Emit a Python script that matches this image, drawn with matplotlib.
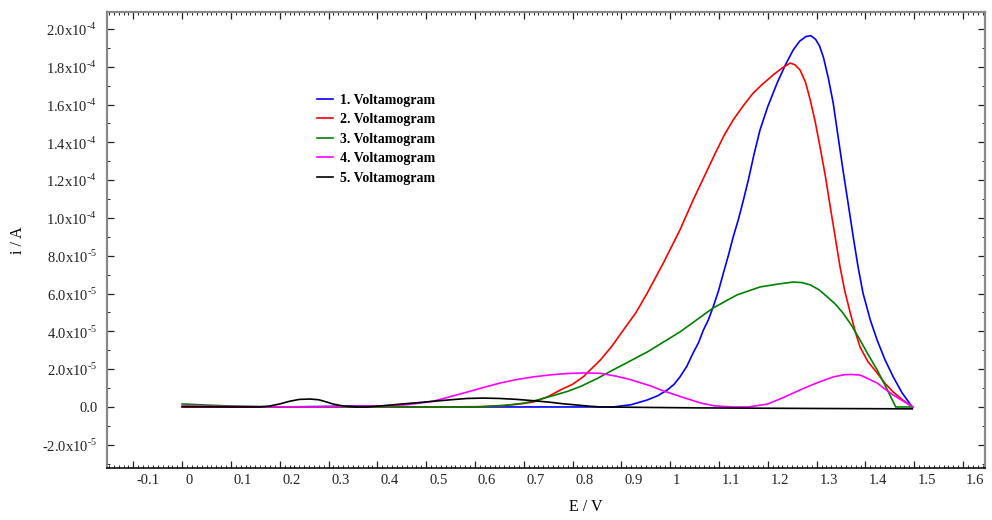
import matplotlib
matplotlib.use("Agg")
import matplotlib.pyplot as plt
from matplotlib.transforms import ScaledTranslation
from matplotlib.ticker import MultipleLocator
import numpy as np

plt.rcParams['font.family'] = ['Liberation Serif', 'DejaVu Serif']
plt.rcParams['mathtext.fontset'] = 'custom'
plt.rcParams['mathtext.rm'] = 'Liberation Serif'

# ---- data (E in V, i in units of 1e-5 A) ----
E1 = [0.0, 0.2, 0.3, 0.35, 0.4, 0.5, 0.8, 0.883, 0.92, 0.953, 0.975, 0.994, 1.008, 1.020, 1.034,
      1.047, 1.058, 1.068, 1.078, 1.088, 1.099, 1.109, 1.119, 1.129, 1.140, 1.150, 1.160, 1.172,
      1.184, 1.20, 1.219, 1.236, 1.252, 1.265, 1.278, 1.288, 1.298, 1.306, 1.314, 1.324, 1.334,
      1.344, 1.354, 1.365, 1.375, 1.385, 1.395, 1.41, 1.424, 1.44, 1.457, 1.475, 1.496]
I1 = [0.0, 0.0, 0.03, 0.05, 0.04, 0.0, 0.0, 0.0, 0.12, 0.37, 0.6, 0.90, 1.2, 1.59, 2.15,
      2.86, 3.4, 4.07, 4.6, 5.29, 6.15, 7.09, 8.0, 8.99, 9.95, 10.95, 12.0, 13.4,
      14.66, 15.9, 17.14, 18.1, 18.89, 19.35, 19.6, 19.65, 19.45, 19.1, 18.5, 17.4, 16.08,
      14.3, 12.54, 10.7, 9.0, 7.4, 6.03, 4.6, 3.54, 2.5, 1.59, 0.75, 0.0]

E2 = [0.0, 0.3, 0.55, 0.62, 0.66, 0.69, 0.719, 0.75, 0.775, 0.8, 0.822, 0.857, 0.88, 0.904, 0.93,
      0.953, 0.986, 1.020, 1.047, 1.068, 1.09, 1.11, 1.129, 1.150, 1.170, 1.19, 1.211, 1.23,
      1.246, 1.256, 1.266, 1.277, 1.287, 1.297, 1.307, 1.318, 1.328, 1.338, 1.348, 1.358, 1.369,
      1.379, 1.389, 1.405, 1.424, 1.44, 1.457, 1.476, 1.496]
I2 = [0.0, 0.0, 0.0, 0.02, 0.08, 0.15, 0.26, 0.55, 0.90, 1.2, 1.6, 2.49, 3.2, 4.07, 5.0,
      6.03, 7.62, 9.37, 10.95, 12.1, 13.3, 14.35, 15.19, 15.95, 16.61, 17.1, 17.57, 17.95,
      18.2, 18.1, 17.83, 17.2, 16.24, 15.1, 13.76, 12.2, 10.58, 9.0, 7.41, 6.1, 4.97,
      4.0, 3.17, 2.4, 1.80, 1.25, 0.79, 0.38, 0.0]

E3 = [0.0, 0.05, 0.1, 0.2, 0.6, 0.66, 0.70, 0.73, 0.76, 0.789, 0.816, 0.85, 0.883, 0.953, 1.020,
      1.088, 1.137, 1.184, 1.22, 1.252, 1.27, 1.287, 1.305, 1.322, 1.338, 1.354, 1.372, 1.389,
      1.405, 1.424, 1.445, 1.462, 1.496]
I3 = [0.16, 0.1, 0.05, 0.0, 0.0, 0.08, 0.2, 0.38, 0.6, 0.82, 1.08, 1.5, 1.96, 2.91, 3.97,
      5.24, 5.93, 6.35, 6.5, 6.61, 6.58, 6.46, 6.2, 5.82, 5.45, 4.97, 4.3, 3.54,
      2.8, 1.96, 0.9, 0.0, 0.0]

E4 = [0.0, 0.1, 0.262, 0.4, 0.447, 0.48, 0.514, 0.55, 0.584, 0.62, 0.652, 0.685, 0.719, 0.755,
      0.789, 0.822, 0.857, 0.891, 0.918, 0.959, 0.986, 1.027, 1.061, 1.09, 1.129, 1.16, 1.199,
      1.232, 1.266, 1.30, 1.334, 1.355, 1.37, 1.389, 1.405, 1.424, 1.44, 1.457, 1.478, 1.498]
I4 = [0.05, 0.02, 0.0, 0.05, 0.1, 0.18, 0.3, 0.55, 0.79, 1.05, 1.27, 1.45, 1.59, 1.7,
      1.77, 1.80, 1.78, 1.62, 1.45, 1.12, 0.85, 0.5, 0.22, 0.06, 0.0, 0.0, 0.15,
      0.5, 0.90, 1.27, 1.59, 1.7, 1.72, 1.69, 1.5, 1.27, 0.95, 0.63, 0.3, 0.0]

E5 = [0.0, 0.1, 0.16, 0.18, 0.2, 0.22, 0.24, 0.262, 0.28, 0.295, 0.31, 0.33, 0.355, 0.379, 0.41,
      0.447, 0.48, 0.514, 0.55, 0.584, 0.617, 0.65, 0.686, 0.72, 0.754, 0.78, 0.81, 0.835, 0.857,
      1.061, 1.3, 1.496]
I5 = [0.02, 0.0, 0.0, 0.05, 0.16, 0.3, 0.4, 0.42, 0.38, 0.27, 0.15, 0.05, 0.0, 0.0, 0.06,
      0.15, 0.22, 0.3, 0.38, 0.45, 0.47, 0.45, 0.4, 0.33, 0.25, 0.17, 0.1, 0.04, 0.0,
      -0.05, -0.08, -0.1]

labels = ['1. Voltamogram', '2. Voltamogram', '3. Voltamogram', '4. Voltamogram', '5. Voltamogram']
colors = ['#0000ff', '#ff0000', '#008000', '#ff00ff', '#000000']

xticks = [-0.1, 0.0, 0.1, 0.2, 0.3, 0.4, 0.5, 0.6, 0.7, 0.8, 0.9, 1.0, 1.1, 1.2, 1.3, 1.4, 1.5, 1.6]
xticklabels = ['-0.1', '0', '0.1', '0.2', '0.3', '0.4', '0.5', '0.6', '0.7', '0.8', '0.9', '1',
               '1.1', '1.2', '1.3', '1.4', '1.5', '1.6']
yticks = [-2e-5, 0.0, 2e-5, 4e-5, 6e-5, 8e-5, 1e-4, 1.2e-4, 1.4e-4, 1.6e-4, 1.8e-4, 2.0e-4]
ytick_mant = ['-2.0', '0.0', '2.0', '4.0', '6.0', '8.0', '1.0', '1.2', '1.4', '1.6', '1.8', '2.0']
ytick_exp = ['5', None, '5', '5', '5', '5', '4', '4', '4', '4', '4', '4']
yticklabels = [m if e is None else m + 'x10$^{\\mathregular{\u2010' + e + '}}$'
               for m, e in zip(ytick_mant, ytick_exp)]

fig = plt.figure(figsize=(9.92, 5.2), dpi=100)
ax = fig.add_axes([107/992, 1-468/520, (985-107)/992, (468-12)/520])

series = [(E1, I1), (E2, I2), (E3, I3), (E4, I4), (E5, I5)]
for (E, I), lab, c in zip(series, labels, colors):
    ax.plot(E, np.array(I) * 1e-5, color=c, lw=1.2, label=lab)

ax.set_xlim(-0.154, 1.645)
ax.set_ylim(-3.23e-5, 2.09e-4)

ax.set_xticks(xticks, xticklabels)
ax.set_yticks(yticks, yticklabels)
ax.xaxis.set_minor_locator(MultipleLocator(0.01))
ax.yaxis.set_minor_locator(MultipleLocator(1e-5))
ax.tick_params(which='both', direction='in', top=True, right=True, labelsize=10.5, colors='#222222')
ax.tick_params(which='major', length=5, width=0.9)
ax.tick_params(which='minor', length=2.5, width=0.7)
ax.tick_params(axis='x', pad=4)
ax.tick_params(axis='y', pad=7)

off = ScaledTranslation(3/100, 0, fig.dpi_scale_trans)
for t in ax.xaxis.get_major_ticks():
    t.label1.set_horizontalalignment('left')
    t.label1.set_transform(t.label1.get_transform() + off)

for side in ['left', 'top', 'right']:
    ax.spines[side].set_color('#888888')
    ax.spines[side].set_linewidth(1.6)
ax.spines['bottom'].set_color('#111111')
ax.spines['bottom'].set_linewidth(1.2)

fig.text(586/992, 1-507/520, 'E / V', ha='center', va='center', fontsize=11.5)
fig.text(18/992, 1-240/520, 'i / A', ha='center', va='center', rotation=90, fontsize=11.5)

leg = ax.legend(loc='upper left', bbox_to_anchor=((311-107)/878, (468-88)/456), frameon=False,
                prop={'weight': 'bold', 'size': 10}, handlelength=1.15, handletextpad=0.55,
                labelspacing=0.47, borderaxespad=0)

fig.savefig('out.png', dpi=100, facecolor='white')
